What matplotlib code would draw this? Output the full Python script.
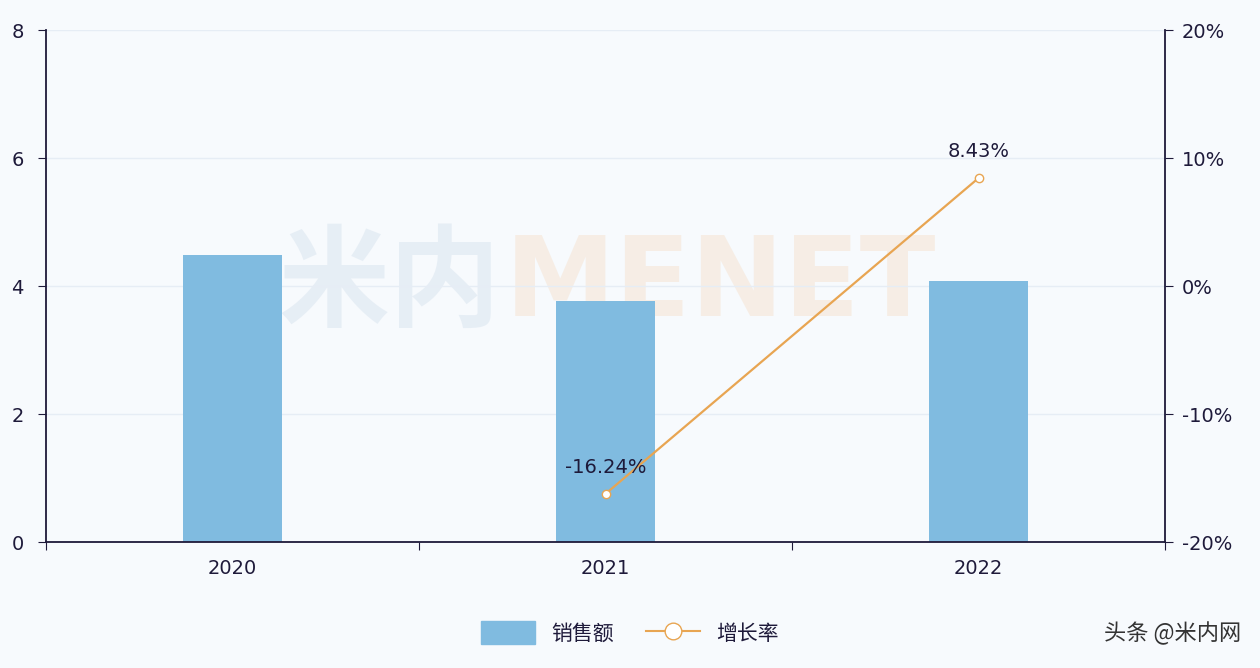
import numpy as np
import matplotlib.pyplot as plt
from matplotlib.lines import Line2D
from matplotlib.patches import Patch

plt.rcParams['font.family'] = ['Noto Sans CJK SC', 'DejaVu Sans']

# data
years = ['2020', '2021', '2022']
sales = [4.48, 3.77, 4.08]
growth_years = [1, 2]
growth = [-16.24, 8.43]

bar_color = '#80bbe0'
line_color = '#e8a552'
axis_color = '#1e1a3a'
bg = '#f7fafd'

fig = plt.figure(figsize=(12.6, 6.68), dpi=100, facecolor=bg)
ax = fig.add_axes([46 / 1260, 1 - 542 / 668, 1119 / 1260, 512 / 668])
ax.set_facecolor(bg)

x = np.arange(len(years))
ax.bar(x, sales, width=0.263, color=bar_color, zorder=2)
ax.set_xlim(-0.5, 2.5)
ax.set_ylim(0, 8)
ax.set_yticks([0, 2, 4, 6, 8])
ax.set_xticks([-0.5, 0.5, 1.5, 2.5])
ax.set_xticklabels([])
ax.set_xticks(x, minor=True)
ax.set_xticklabels(years, minor=True)
ax.tick_params(axis='x', which='minor', length=0, pad=12, labelsize=14,
               labelcolor=axis_color)
ax.tick_params(axis='x', which='major', length=6, color=axis_color)
ax.tick_params(axis='y', length=6, color=axis_color, pad=10, labelsize=14,
               labelcolor=axis_color)
for t in ax.get_xticklabels(minor=True):
    t.set_fontfamily('DejaVu Sans')
for t in ax.get_yticklabels():
    t.set_fontfamily('DejaVu Sans')
ax.grid(axis='y', color='#e6edf5', linewidth=1, zorder=0)
for s in ['top', 'right']:
    ax.spines[s].set_visible(False)
ax.spines['left'].set_color(axis_color)
ax.spines['bottom'].set_color(axis_color)
ax.spines['left'].set_linewidth(1.3)
ax.spines['bottom'].set_linewidth(1.3)

# watermark
ax.text(0.406, 0.5, '米内', transform=ax.transAxes, fontsize=80, fontweight='bold',
        color='#c9d9e8', alpha=0.35, ha='right', va='center', zorder=1)
ax.text(0.41, 0.5, 'MENET', transform=ax.transAxes, fontsize=80, fontweight='bold',
        color='#f6c9a0', alpha=0.25, ha='left', va='center', zorder=1,
        family='DejaVu Sans')

ax2 = ax.twinx()
ax2.plot(growth_years, growth, color=line_color, linewidth=1.6, marker='o',
         markersize=6, markerfacecolor='white', markeredgecolor=line_color, zorder=3)
for gx, gy in zip(growth_years, growth):
    ax2.annotate(f'{gy:.2f}%', (gx, gy), xytext=(0, 12), textcoords='offset points',
                 ha='center', va='bottom', fontsize=14, color=axis_color,
                 family='DejaVu Sans')
ax2.set_ylim(-20, 20)
ax2.set_yticks([-20, -10, 0, 10, 20])
ax2.set_yticklabels(['-20%', '-10%', '0%', '10%', '20%'], family='DejaVu Sans')
ax2.tick_params(axis='y', length=6, color=axis_color, labelsize=14,
                labelcolor=axis_color, pad=6)
for s in ['top', 'left', 'bottom']:
    ax2.spines[s].set_visible(False)
ax2.spines['right'].set_color(axis_color)
ax2.spines['right'].set_linewidth(1.3)

handles = [Patch(facecolor=bar_color, edgecolor=bar_color, label='销售额'),
           Line2D([0], [0], color=line_color, marker='o', markersize=12,
                  markerfacecolor='white', markeredgecolor=line_color, label='增长率')]
fig.legend(handles=handles, loc='center', bbox_to_anchor=(0.5, 1 - 633 / 668), ncol=2,
           frameon=False, fontsize=15, handlelength=2.6, handleheight=1.3,
           columnspacing=1.5, labelcolor=axis_color)

fig.text(0.985, 1 - 633 / 668, '头条 @米内网', ha='right', va='center', fontsize=16,
         color='#333333')

fig.savefig('out.png', dpi=100, facecolor=bg)
